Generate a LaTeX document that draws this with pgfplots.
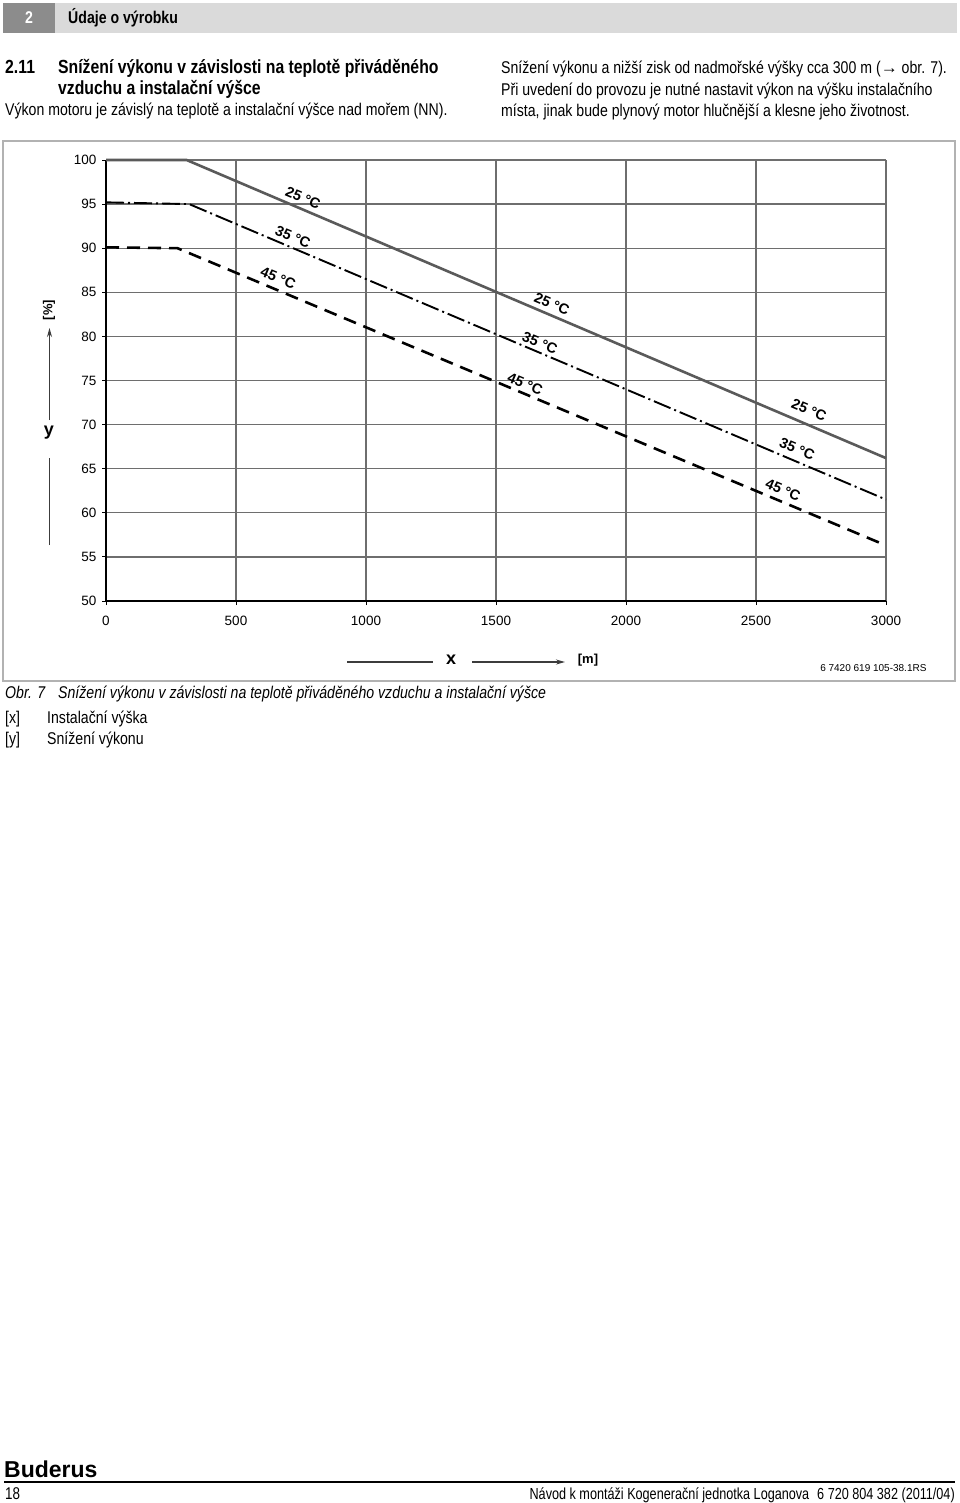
\documentclass[border=0pt]{standalone}
\usepackage{fontspec}
\setmainfont{Liberation Sans}[FakeStretch=0.83]
\newfontfamily\chartfont{Liberation Sans}
\newfontfamily\footfont{Liberation Sans}[FakeStretch=0.79]
\usepackage{pgfplots}
\pgfplotsset{compat=1.18}
\usetikzlibrary{arrows.meta}
\definecolor{hdrlight}{RGB}{218,218,218}
\definecolor{hdrdark}{RGB}{140,140,140}
\definecolor{framegray}{RGB}{178,178,178}
\definecolor{gridgray}{RGB}{110,110,110}
\definecolor{line25}{RGB}{90,90,90}
\definecolor{axgray}{RGB}{60,60,60}
\begin{document}
\begin{tikzpicture}[x=1pt,y=1pt]
% page
\fill[white] (0,0) rectangle (960,-1503);
% header bar
\fill[hdrlight] (3,-3) rectangle (957,-33);
\fill[hdrdark] (3,-3) rectangle (55,-33);
\node[text=white,font=\bfseries\fontsize{17}{20}\selectfont] at (29,-18) {2};
\node[anchor=west,font=\bfseries\fontsize{17}{20}\selectfont,inner sep=0pt] at (68,-18) {Údaje o výrobku};
% section title
\node[anchor=base west,inner sep=0pt,font=\bfseries\fontsize{19}{22}\selectfont] at (5,-74) {2.11};
\node[anchor=base west,inner sep=0pt,font=\bfseries\fontsize{19}{22}\selectfont] at (58,-74) {Snížení výkonu v závislosti na teplotě přiváděného};
\node[anchor=base west,inner sep=0pt,font=\bfseries\fontsize{19}{22}\selectfont] at (58,-95) {vzduchu a instalační výšce};
\node[anchor=base west,inner sep=0pt,font=\fontsize{17}{20}\selectfont] at (5,-116) {Výkon motoru je závislý na teplotě a instalační výšce nad mořem (NN).};
\node[anchor=base west,inner sep=0pt,font=\fontsize{17}{20}\selectfont] at (501,-74) {Snížení výkonu a nižší zisk od nadmořské výšky cca 300 m ({\chartfont\bfseries →} obr. 7).};
\node[anchor=base west,inner sep=0pt,font=\fontsize{17}{20}\selectfont] at (501,-96) {Při uvedení do provozu je nutné nastavit výkon na výšku instalačního};
\node[anchor=base west,inner sep=0pt,font=\fontsize{17}{20}\selectfont] at (501,-117) {místa, jinak bude plynový motor hlučnější a klesne jeho životnost.};
% figure frame
\draw[framegray,line width=1.5pt] (3,-141) rectangle (955,-681);
% chart
\begin{axis}[
  at={(106pt,-601pt)}, anchor=south west,
  scale only axis, width=780pt, height=441pt,
  xmin=0, xmax=3000, ymin=50, ymax=100,
  xtick={0,500,...,3000}, ytick={50,55,...,100},
  axis lines=left, axis line style={-, black, line width=1.2pt},
  grid=major, grid style={gridgray, line width=1.3pt},
  tick align=outside, major tick length=4pt,
  tick style={black, line width=1pt},
  /pgf/number format/assume math mode=true,
  /pgf/number format/1000 sep={},
  tick label style={font=\chartfont\fontsize{13.5}{15}\selectfont},
  xticklabel style={yshift=-8pt},
  yticklabel style={xshift=-2pt},
  clip=false,
]
\addplot[line25, line width=2.6pt] coordinates {(0,100) (310,100) (3000,66.2)};
\addplot[black, line width=1.9pt, dash pattern=on 18pt off 4pt on 2pt off 4pt] coordinates {(0,95.2) (320,95.0) (3000,61.5)};
\addplot[black, line width=2.6pt, dash pattern=on 13pt off 8pt] coordinates {(0,90.1) (275,90.0) (3000,56.3)};
\begin{scope}[every node/.style={rotate=-23, inner sep=0pt, font=\chartfont\bfseries\fontsize{14.5}{16}\selectfont}]
\node at (axis cs:758,95.7) {25 °C};
\node at (axis cs:1715,83.7) {25 °C};
\node at (axis cs:2704,71.65) {25 °C};
\node at (axis cs:719,91.27) {35 °C};
\node at (axis cs:1669,79.25) {35 °C};
\node at (axis cs:2658,67.23) {35 °C};
\node at (axis cs:662,86.6) {45 °C};
\node at (axis cs:1612,74.6) {45 °C};
\node at (axis cs:2604,62.6) {45 °C};
\end{scope}
\end{axis}
% axis name arrows
\draw[axgray,line width=1.2pt] (49.5,-545) -- (49.5,-458);
\draw[axgray,line width=1.2pt,-{Stealth[length=9pt,width=5pt]}] (49.5,-420) -- (49.5,-328);
\node[font=\chartfont\bfseries\fontsize{18}{20}\selectfont] at (49,-433) {y};
\node[rotate=90,font=\chartfont\bfseries\fontsize{13}{15}\selectfont] at (49,-310) {[\%]};
\draw[axgray,line width=1.2pt] (347,-662) -- (433,-662);
\draw[axgray,line width=1.2pt,-{Stealth[length=9pt,width=5pt]}] (472,-662) -- (565,-662);
\node[font=\chartfont\bfseries\fontsize{18}{20}\selectfont] at (451,-660) {x};
\node[font=\chartfont\bfseries\fontsize{13}{15}\selectfont] at (588,-660) {[m]};
\node[anchor=east,font=\chartfont\fontsize{10}{12}\selectfont] at (930,-668) {6 7420 619 105-38.1RS};
% caption
\node[anchor=base west,inner sep=0pt,font=\itshape\fontsize{17}{20}\selectfont] at (5,-698) {Obr. 7};
\node[anchor=base west,inner sep=0pt,font=\itshape\fontsize{17}{20}\selectfont] at (58,-698) {Snížení výkonu v závislosti na teplotě přiváděného vzduchu a instalační výšce};
\node[anchor=base west,inner sep=0pt,font=\fontsize{17}{20}\selectfont] at (5,-723) {[x]};
\node[anchor=base west,inner sep=0pt,font=\fontsize{17}{20}\selectfont] at (47,-723) {Instalační výška};
\node[anchor=base west,inner sep=0pt,font=\fontsize{17}{20}\selectfont] at (5,-744) {[y]};
\node[anchor=base west,inner sep=0pt,font=\fontsize{17}{20}\selectfont] at (47,-744) {Snížení výkonu};
% footer
\node[anchor=base west,inner sep=0pt,font=\chartfont\bfseries\fontsize{23}{25}\selectfont] at (4,-1477) {Buderus};
\draw[black,line width=1.5pt] (4,-1482) -- (955,-1482);
\node[anchor=base west,inner sep=0pt,font=\footfont\fontsize{17}{20}\selectfont] at (5,-1499) {18};
\node[anchor=base east,inner sep=0pt,font=\footfont\fontsize{16}{19}\selectfont] at (955,-1499) {Návod k montáži Kogenerační jednotka Loganova\hspace{8pt}6 720 804 382 (2011/04)};
\end{tikzpicture}
\end{document}
